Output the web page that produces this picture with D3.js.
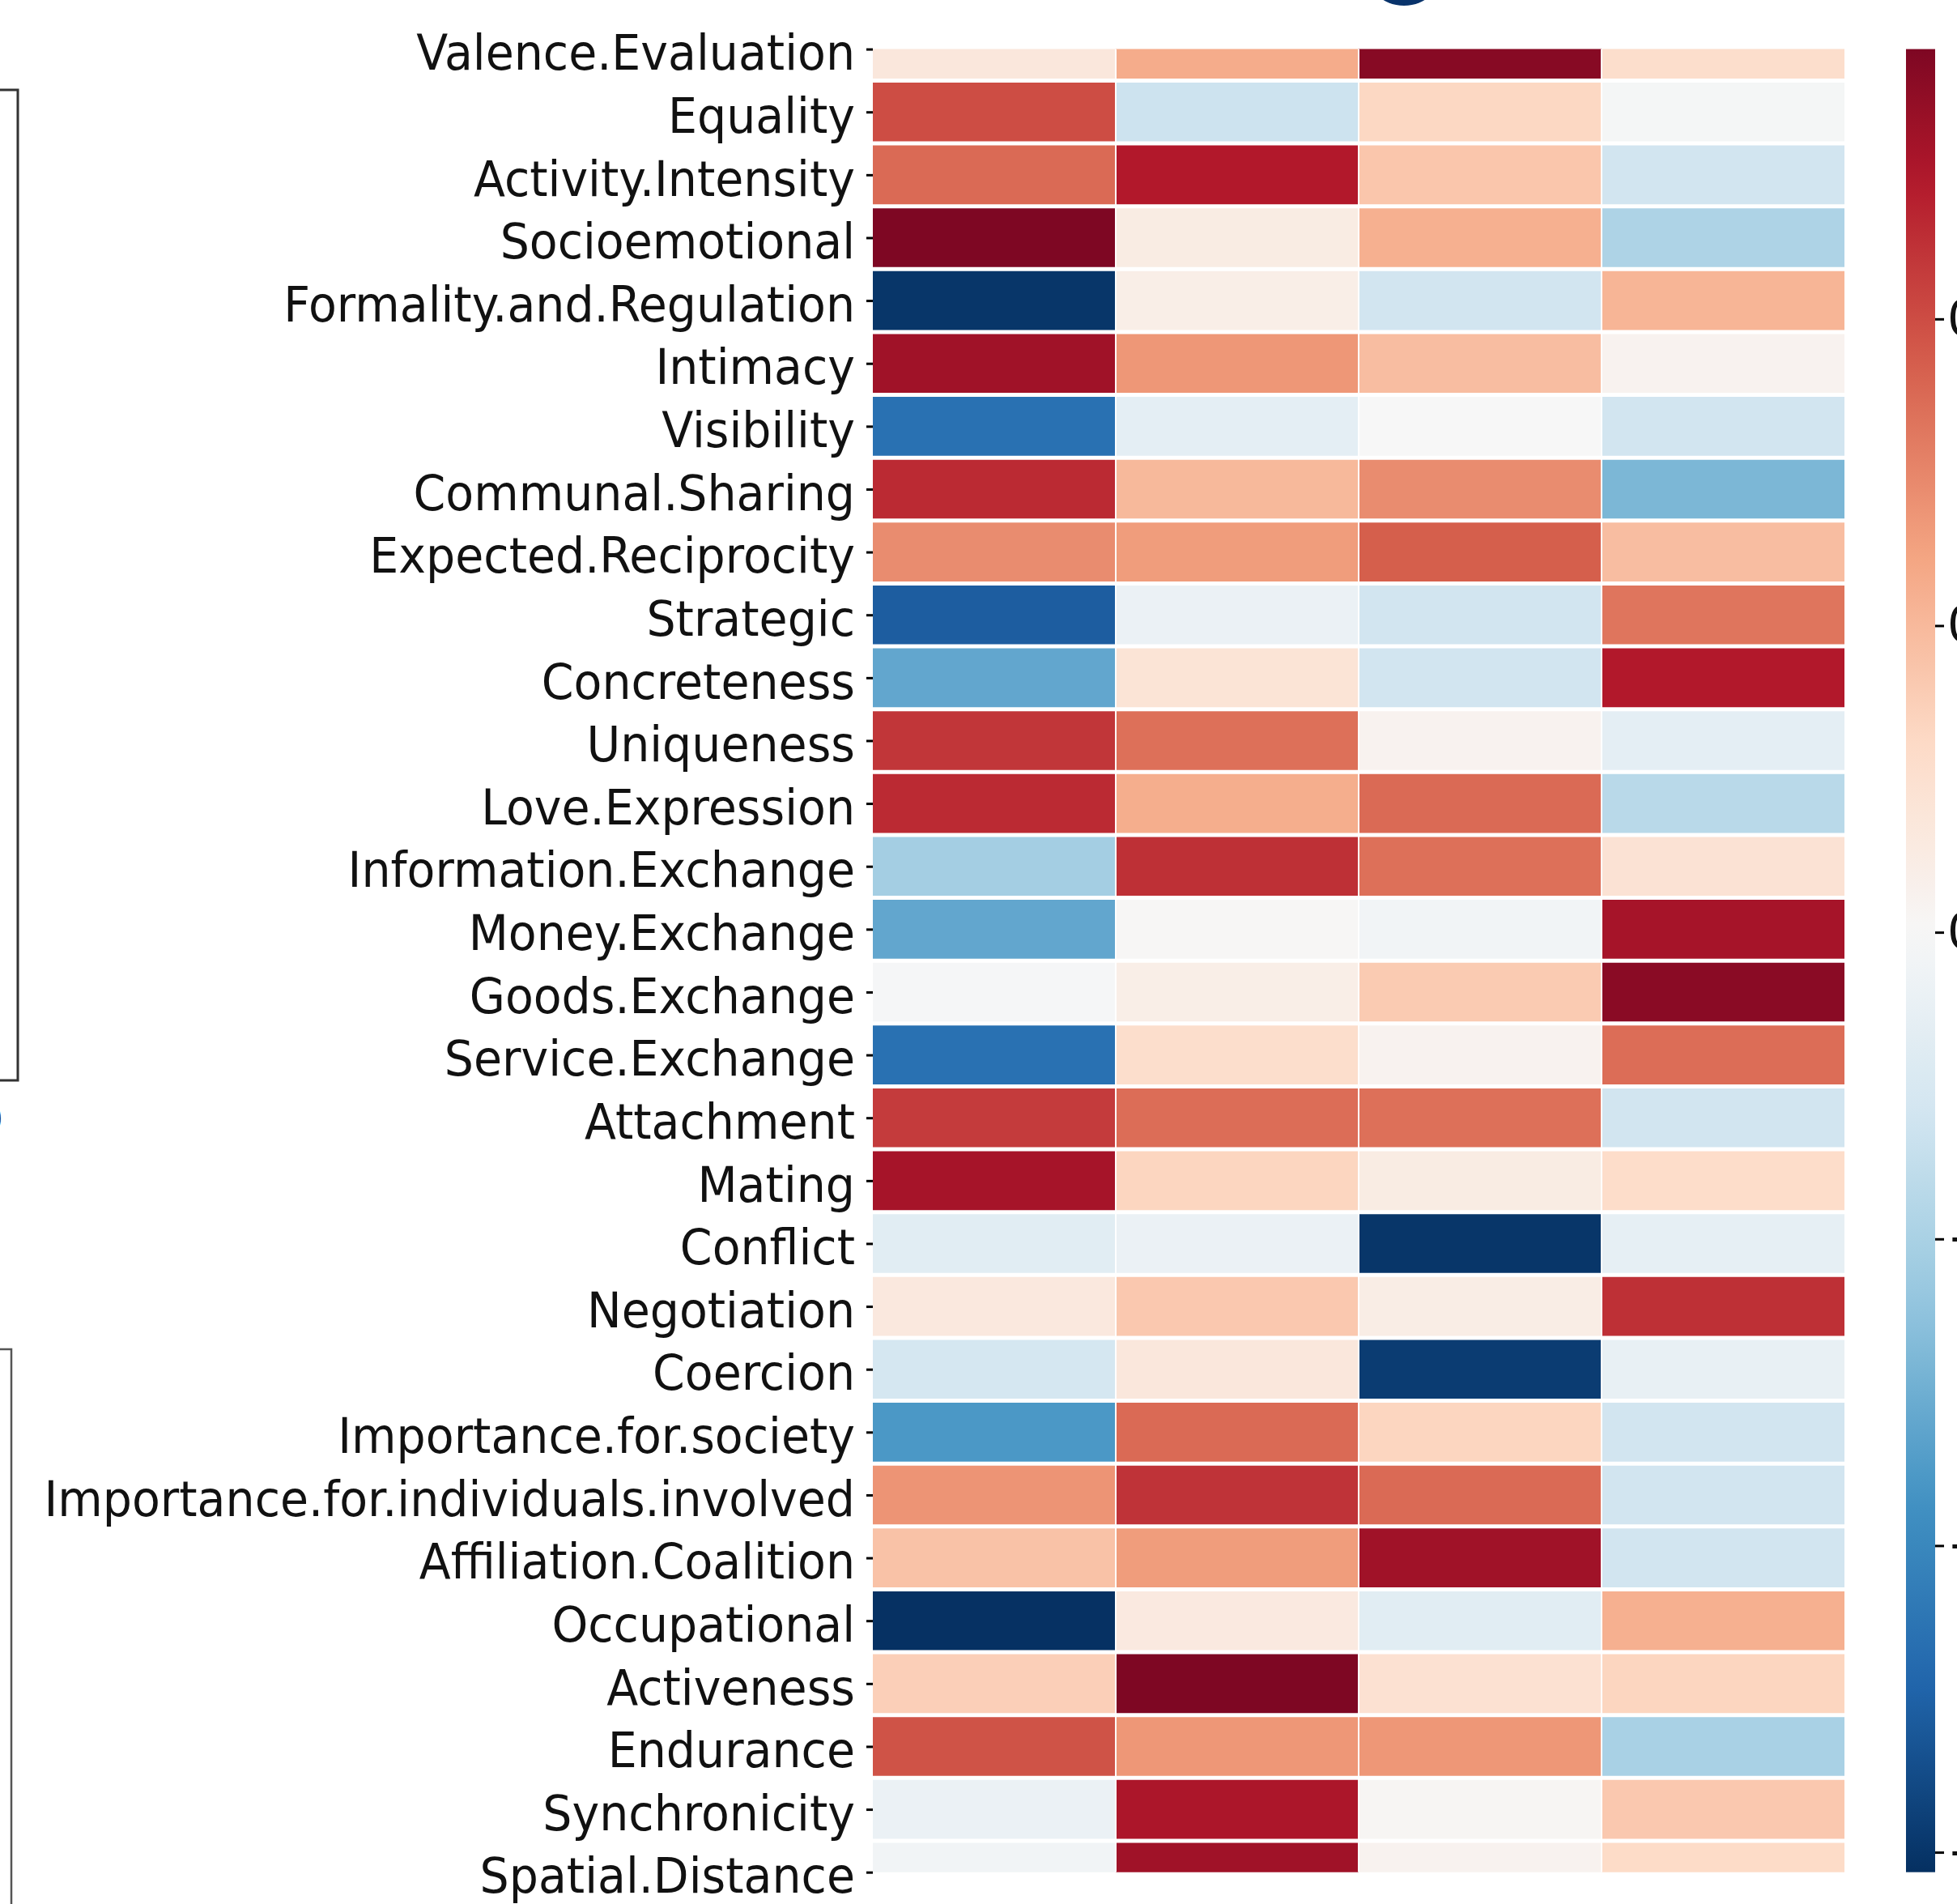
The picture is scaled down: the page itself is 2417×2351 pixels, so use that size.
<!DOCTYPE html>
<html>
<head>
<meta charset="utf-8">
<script src="https://cdn.jsdelivr.net/npm/d3@7"></script>
<style>
  html, body { margin: 0; padding: 0; background: #ffffff; overflow: hidden; }
  svg { display: block; }
  text { font-family: "DejaVu Sans", sans-serif; }
</style>
</head>
<body>
<script>
// ---------------- DATA ----------------
const rowLabels = [
  "Valence.Evaluation", "Equality", "Activity.Intensity", "Socioemotional",
  "Formality.and.Regulation", "Intimacy", "Visibility", "Communal.Sharing",
  "Expected.Reciprocity", "Strategic", "Concreteness", "Uniqueness",
  "Love.Expression", "Information.Exchange", "Money.Exchange", "Goods.Exchange",
  "Service.Exchange", "Attachment", "Mating", "Conflict", "Negotiation",
  "Coercion", "Importance.for.society", "Importance.for.individuals.involved",
  "Affiliation.Coalition", "Occupational", "Activeness", "Endurance",
  "Synchronicity", "Spatial.Distance"
];
const columns = ["C1", "C2", "C3", "C4"];

const col1 = [0.07, 0.40, 0.35, 0.575, -0.60, 0.52, -0.46, 0.46, 0.29, -0.51,
              -0.32, 0.44, 0.46, -0.21, -0.32, -0.005, -0.46, 0.43, 0.51, -0.07,
              0.065, -0.11, -0.355, 0.275, 0.18, -0.61, 0.15, 0.39, -0.04, -0.02];
const col2 = [0.23, -0.13, 0.49, 0.05, 0.04, 0.27, -0.06, 0.20, 0.26, -0.04,
              0.085, 0.34, 0.225, 0.45, 0.005, 0.04, 0.11, 0.345, 0.135, -0.04,
              0.165, 0.07, 0.35, 0.445, 0.26, 0.06, 0.575, 0.27, 0.50, 0.52];
const col3 = [0.56, 0.13, 0.17, 0.22, -0.12, 0.19, 0.0, 0.29, 0.37, -0.12,
              -0.12, 0.02, 0.35, 0.34, -0.02, 0.16, 0.02, 0.34, 0.05, -0.60,
              0.045, -0.585, 0.135, 0.35, 0.52, -0.07, 0.095, 0.27, 0.01, 0.02];
const col4 = [0.11, -0.01, -0.12, -0.19, 0.21, 0.02, -0.12, -0.28, 0.19, 0.33,
              0.49, -0.06, -0.17, 0.09, 0.51, 0.555, 0.345, -0.12, 0.115, -0.055,
              0.45, -0.05, -0.12, -0.12, -0.12, 0.22, 0.135, -0.20, 0.165, 0.12];

const vmin = -0.613, vmax = 0.576;
const colorbarTicks = [0.4, 0.2, 0.0, -0.2, -0.4, -0.6];
const rdbuColors = ["#67001f", "#b2182b", "#d6604d", "#f4a582", "#fddbc7", "#f7f7f7",
                    "#d1e5f0", "#92c5de", "#4393c3", "#2166ac", "#053061"];

// ---------------- LAYOUT ----------------
const W = 2417, H = 2351;
const heat = { left: 1078, right: 2278, top: 60.6, bottom: 2311.7 };
const cbar = { left: 2354, right: 2390 };
const fontSize = 60;
const textSqueeze = 0.95;

const svg = d3.select("body").append("svg")
  .attr("width", W).attr("height", H)
  .attr("viewBox", `0 0 ${W} ${H}`);

// seaborn-style centred diverging colormap (RdBu_r, centre 0)
const R = Math.max(Math.abs(vmin), Math.abs(vmax));
const color = d3.scaleLinear()
  .domain(d3.range(11).map(i => -R + i * (2 * R) / 10))
  .range(rdbuColors.slice().reverse())
  .interpolate(d3.interpolateRgb)
  .clamp(true);

// y band scale: first and last rows are half-cut (matplotlib ylim artefact)
const pitch = (heat.bottom - heat.top) / (rowLabels.length - 1);
const y = d3.scaleBand()
  .domain(rowLabels)
  .range([heat.top - pitch / 2, heat.bottom + pitch / 2])
  .padding(0);
const x = d3.scaleBand()
  .domain(columns)
  .range([heat.left, heat.right])
  .padding(0);

const cells = [];
const cols = [col1, col2, col3, col4];
columns.forEach((c, j) => {
  rowLabels.forEach((r, i) => cells.push({ row: r, col: c, value: cols[j][i] }));
});

svg.append("clipPath").attr("id", "heatclip")
  .append("rect")
  .attr("x", heat.left).attr("y", heat.top)
  .attr("width", heat.right - heat.left).attr("height", heat.bottom - heat.top);

const gHeat = svg.append("g").attr("clip-path", "url(#heatclip)");
gHeat.selectAll("rect.cell")
  .data(cells)
  .join("rect")
  .attr("class", "cell")
  .attr("x", d => x(d.col))
  .attr("y", d => y(d.row))
  .attr("width", x.bandwidth())
  .attr("height", y.bandwidth())
  .attr("fill", d => color(d.value));

// white separators (thin vertical, thicker horizontal as in the reference)
gHeat.selectAll("line.vsep")
  .data(columns.slice(1))
  .join("line")
  .attr("x1", d => x(d)).attr("x2", d => x(d))
  .attr("y1", heat.top).attr("y2", heat.bottom)
  .attr("stroke", "#ffffff").attr("stroke-width", 2);
gHeat.selectAll("line.hsep")
  .data(rowLabels.slice(1))
  .join("line")
  .attr("x1", heat.left).attr("x2", heat.right)
  .attr("y1", d => y(d)).attr("y2", d => y(d))
  .attr("stroke", "#ffffff").attr("stroke-width", 5);

// y axis with labels
const yAxisCenter = d3.scalePoint().domain(rowLabels)
  .range([heat.top, heat.bottom]);
const yAxis = svg.append("g")
  .attr("transform", `translate(${heat.left},0)`)
  .call(d3.axisLeft(yAxisCenter).tickSize(8).tickPadding(14));
yAxis.select(".domain").remove();
yAxis.selectAll(".tick line").attr("stroke", "#000").attr("stroke-width", 3);
yAxis.selectAll(".tick text")
  .attr("font-size", fontSize)
  .attr("font-family", "DejaVu Sans")
  .attr("fill", "#111")
  .attr("dy", "0.42em")
  .attr("transform", `scale(${textSqueeze},1)`)
  .attr("x", -22 / textSqueeze);

// colorbar
const cy = d3.scaleLinear().domain([vmin, vmax]).range([heat.bottom, heat.top]);
const grad = svg.append("defs").append("linearGradient")
  .attr("id", "cbgrad").attr("x1", 0).attr("x2", 0).attr("y1", 1).attr("y2", 0);
d3.range(0, 1.0001, 0.02).forEach(t => {
  grad.append("stop")
    .attr("offset", t)
    .attr("stop-color", color(vmin + t * (vmax - vmin)));
});
svg.append("rect")
  .attr("x", cbar.left).attr("y", heat.top)
  .attr("width", cbar.right - cbar.left).attr("height", heat.bottom - heat.top)
  .attr("fill", "url(#cbgrad)");
const cAxis = svg.append("g")
  .attr("transform", `translate(${cbar.right},0)`)
  .call(d3.axisRight(cy).tickValues(colorbarTicks).tickSize(11).tickPadding(4)
        .tickFormat(d3.format(".1f")));
cAxis.select(".domain").remove();
cAxis.selectAll(".tick line").attr("stroke", "#000").attr("stroke-width", 3);
cAxis.selectAll(".tick text")
  .attr("font-size", fontSize)
  .attr("font-family", "DejaVu Sans")
  .attr("fill", "#111");

// remnants of neighbouring panels (cropped figure)
const deco = svg.append("g").attr("fill", "none");
deco.append("path")
  .attr("d", "M0,111 H22 V1334 H0")
  .attr("stroke", "#333").attr("stroke-width", 3);
deco.append("path")
  .attr("d", "M0,1666 H14 V2351")
  .attr("stroke", "#555").attr("stroke-width", 2.5);
svg.append("text")
  .attr("x", -22).attr("y", 1396)
  .attr("font-size", 40).attr("fill", "#222")
  .text("0");
svg.append("circle")
  .attr("cx", 1734).attr("cy", -43).attr("r", 50)
  .attr("fill", "#08336b");
</script>
</body>
</html>
